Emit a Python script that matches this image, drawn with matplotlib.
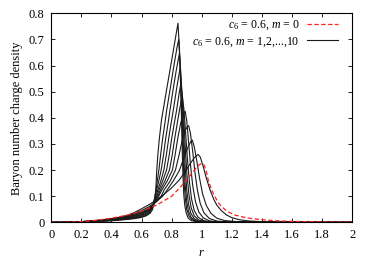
import matplotlib
matplotlib.use("Agg")
import matplotlib.pyplot as plt

plt.rcParams['font.family'] = ['Liberation Serif', 'DejaVu Serif']
plt.rcParams['mathtext.fontset'] = 'custom'
plt.rcParams['mathtext.rm'] = 'Liberation Serif'
plt.rcParams['mathtext.it'] = 'Liberation Serif:italic'

# red dashed: c6=0.6, m=0
r0 = [0, 0.1, 0.2, 0.3, 0.4, 0.5, 0.6, 0.7, 0.8, 0.85, 0.9, 0.93, 0.96, 0.98, 1.0, 1.015, 1.03, 1.043, 1.065, 1.088, 1.11, 1.132, 1.17, 1.22, 1.3, 1.4, 1.5, 1.6, 1.8, 2.0]
d0 = [0, 0.0005, 0.003, 0.008, 0.016, 0.027, 0.043, 0.066, 0.1, 0.13, 0.162, 0.185, 0.207, 0.219, 0.226, 0.22, 0.195, 0.162, 0.125, 0.098, 0.075, 0.06, 0.042, 0.028, 0.017, 0.01, 0.006, 0.004, 0.0015, 0.0005]

# black solid: m = 1..10
r1 = [0, 0.1, 0.2, 0.3, 0.4, 0.45, 0.5, 0.55, 0.6, 0.65, 0.7, 0.75, 0.8, 0.85, 0.89, 0.92, 0.95, 0.975, 0.99, 1.01, 1.03, 1.055, 1.08, 1.1, 1.13, 1.165, 1.2, 1.25, 1.3, 1.4, 1.6, 2.0]
d1 = [0, 0.0005, 0.003, 0.0075, 0.014, 0.019, 0.026, 0.037, 0.052, 0.068, 0.086, 0.108, 0.132, 0.162, 0.194, 0.222, 0.247, 0.26, 0.25, 0.213, 0.17, 0.124, 0.088, 0.066, 0.045, 0.028, 0.018, 0.01, 0.006, 0.0025, 0.0007, 0]

r2 = [0, 0.1, 0.2, 0.3, 0.4, 0.5, 0.55, 0.6, 0.65, 0.7, 0.74, 0.77, 0.81, 0.85, 0.88, 0.91, 0.928, 0.937, 0.95, 0.967, 0.985, 1.005, 1.03, 1.06, 1.1, 1.15, 1.25, 1.4, 2.0]
d2 = [0, 0.0004, 0.0027, 0.007, 0.014, 0.024, 0.033, 0.045, 0.06, 0.08, 0.1, 0.124, 0.158, 0.197, 0.245, 0.29, 0.31, 0.315, 0.29, 0.235, 0.17, 0.11, 0.065, 0.035, 0.016, 0.007, 0.002, 0.0005, 0]

r3 = [0, 0.1, 0.2, 0.3, 0.4, 0.5, 0.55, 0.6, 0.63, 0.65, 0.68, 0.71, 0.73, 0.75, 0.79, 0.825, 0.848, 0.87, 0.89, 0.905, 0.913, 0.925, 0.94, 0.955, 0.972, 0.99, 1.015, 1.05, 1.1, 1.2, 2.0]
d3 = [0, 0.0003, 0.0024, 0.0065, 0.013, 0.023, 0.03, 0.04, 0.048, 0.055, 0.069, 0.086, 0.1, 0.124, 0.158, 0.2, 0.255, 0.315, 0.352, 0.367, 0.37, 0.34, 0.27, 0.19, 0.12, 0.072, 0.036, 0.015, 0.005, 0.001, 0]

r4 = [0, 0.1, 0.2, 0.3, 0.4, 0.5, 0.55, 0.6, 0.63, 0.65, 0.67, 0.69, 0.712, 0.735, 0.77, 0.805, 0.822, 0.84, 0.86, 0.877, 0.89, 0.9, 0.912, 0.925, 0.94, 0.958, 0.98, 1.01, 1.05, 1.1, 1.2, 2.0]
d4 = [0, 0.0003, 0.0022, 0.006, 0.012, 0.021, 0.027, 0.036, 0.045, 0.053, 0.064, 0.078, 0.098, 0.124, 0.158, 0.2, 0.255, 0.32, 0.38, 0.415, 0.425, 0.39, 0.31, 0.22, 0.14, 0.08, 0.04, 0.017, 0.006, 0.002, 0.0005, 0]

r5 = [0, 0.1, 0.2, 0.3, 0.4, 0.5, 0.55, 0.6, 0.63, 0.65, 0.67, 0.69, 0.707, 0.725, 0.755, 0.785, 0.803, 0.82, 0.836, 0.852, 0.864, 0.871, 0.882, 0.893, 0.905, 0.918, 0.932, 0.95, 0.975, 1.01, 1.06, 1.15, 2.0]
d5 = [0, 0.0002, 0.002, 0.0055, 0.011, 0.019, 0.025, 0.033, 0.042, 0.05, 0.062, 0.078, 0.098, 0.124, 0.158, 0.2, 0.255, 0.32, 0.375, 0.43, 0.467, 0.48, 0.43, 0.34, 0.24, 0.155, 0.09, 0.045, 0.02, 0.007, 0.002, 0.0005, 0]

r6 = [0, 0.1, 0.2, 0.3, 0.4, 0.5, 0.55, 0.6, 0.63, 0.65, 0.67, 0.685, 0.7, 0.716, 0.74, 0.766, 0.783, 0.8, 0.816, 0.833, 0.85, 0.862, 0.872, 0.882, 0.892, 0.902, 0.915, 0.93, 0.95, 0.98, 1.02, 1.1, 2.0]
d6 = [0, 0.0002, 0.0017, 0.005, 0.0105, 0.017, 0.023, 0.03, 0.039, 0.047, 0.06, 0.076, 0.097, 0.124, 0.158, 0.2, 0.255, 0.32, 0.375, 0.43, 0.495, 0.535, 0.48, 0.38, 0.27, 0.18, 0.105, 0.055, 0.025, 0.009, 0.003, 0.0005, 0]

r7 = [0, 0.1, 0.2, 0.3, 0.4, 0.5, 0.55, 0.6, 0.63, 0.65, 0.665, 0.68, 0.695, 0.708, 0.728, 0.748, 0.765, 0.78, 0.795, 0.811, 0.835, 0.856, 0.865, 0.873, 0.882, 0.89, 0.9, 0.912, 0.927, 0.95, 0.98, 1.05, 2.0]
d7 = [0, 0.0002, 0.0015, 0.0045, 0.009, 0.015, 0.02, 0.027, 0.035, 0.044, 0.056, 0.074, 0.098, 0.124, 0.158, 0.2, 0.26, 0.32, 0.375, 0.43, 0.52, 0.59, 0.53, 0.43, 0.31, 0.21, 0.125, 0.07, 0.035, 0.014, 0.005, 0.001, 0]

r8 = [0, 0.1, 0.2, 0.3, 0.4, 0.5, 0.55, 0.6, 0.63, 0.65, 0.665, 0.678, 0.69, 0.70, 0.715, 0.73, 0.745, 0.76, 0.775, 0.789, 0.81, 0.83, 0.851, 0.86, 0.868, 0.875, 0.882, 0.89, 0.9, 0.912, 0.93, 0.96, 1.0, 1.1, 2.0]
d8 = [0, 0.0001, 0.0013, 0.004, 0.008, 0.013, 0.018, 0.024, 0.031, 0.04, 0.052, 0.07, 0.097, 0.124, 0.16, 0.2, 0.255, 0.32, 0.375, 0.43, 0.51, 0.58, 0.645, 0.58, 0.46, 0.34, 0.23, 0.14, 0.08, 0.042, 0.018, 0.006, 0.002, 0.0, 0]

r9 = [0, 0.1, 0.2, 0.3, 0.4, 0.5, 0.55, 0.6, 0.63, 0.65, 0.665, 0.677, 0.687, 0.695, 0.705, 0.715, 0.727, 0.74, 0.755, 0.767, 0.79, 0.815, 0.835, 0.847, 0.855, 0.863, 0.87, 0.876, 0.882, 0.89, 0.9, 0.915, 0.935, 0.97, 1.05, 2.0]
d9 = [0, 0.0001, 0.0012, 0.0035, 0.007, 0.012, 0.016, 0.021, 0.027, 0.035, 0.047, 0.065, 0.095, 0.12, 0.16, 0.2, 0.26, 0.32, 0.38, 0.43, 0.51, 0.6, 0.668, 0.70, 0.63, 0.5, 0.36, 0.25, 0.16, 0.095, 0.05, 0.024, 0.01, 0.003, 0.0005, 0]

r10 = [0, 0.1, 0.2, 0.3, 0.4, 0.5, 0.55, 0.6, 0.63, 0.655, 0.67, 0.68, 0.688, 0.695, 0.70, 0.707, 0.718, 0.732, 0.748, 0.77, 0.8, 0.825, 0.842, 0.85, 0.858, 0.865, 0.87, 0.875, 0.88, 0.887, 0.897, 0.91, 0.93, 0.97, 1.05, 2.0]
d10 = [0, 0.0001, 0.001, 0.003, 0.006, 0.011, 0.014, 0.019, 0.025, 0.034, 0.046, 0.062, 0.085, 0.13, 0.19, 0.25, 0.32, 0.39, 0.445, 0.52, 0.62, 0.705, 0.762, 0.68, 0.55, 0.4, 0.28, 0.18, 0.11, 0.065, 0.035, 0.016, 0.007, 0.002, 0.0, 0.0]

label0 = r'$c_6$ = 0.6, $m$ = 0'
label_b = r'$c_6$ = 0.6, $m$ = 1,2,...,10'
xticks = [0, 0.2, 0.4, 0.6, 0.8, 1.0, 1.2, 1.4, 1.6, 1.8, 2.0]
xticklabels = ['0', '0.2', '0.4', '0.6', '0.8', '1', '1.2', '1.4', '1.6', '1.8', '2']
yticks = [0, 0.1, 0.2, 0.3, 0.4, 0.5, 0.6, 0.7, 0.8]
yticklabels = ['0', '0.1', '0.2', '0.3', '0.4', '0.5', '0.6', '0.7', '0.8']

fig = plt.figure(figsize=(3.74, 2.61), dpi=100)
ax = fig.add_axes([0.137, 0.148, 0.805, 0.801])

ax.plot(r0, d0, color='#ff2020', lw=0.9, ls=(0, (3.5, 2)), label=label0, zorder=3)
blacks = [(r1, d1), (r2, d2), (r3, d3), (r4, d4), (r5, d5),
          (r6, d6), (r7, d7), (r8, d8), (r9, d9), (r10, d10)]
for i, (rr, dd) in enumerate(blacks):
    ax.plot(rr, dd, color='#1a1a1a', lw=0.8, label=label_b if i == 0 else None, zorder=2)

ax.set_xlim(0, 2)
ax.set_ylim(0, 0.8)
ax.set_xticks(xticks)
ax.set_xticklabels(xticklabels)
ax.set_yticks(yticks)
ax.set_yticklabels(yticklabels)
ax.tick_params(direction='in', top=True, right=True, length=3, width=0.6, labelsize=9, pad=5)
for s in ax.spines.values():
    s.set_linewidth(0.8)

ax.set_xlabel(r'$r$', fontsize=9, labelpad=4)
ax.set_ylabel('Baryon number charge density', fontsize=9, labelpad=4)

leg = ax.legend(loc='upper right', bbox_to_anchor=(0.97, 1.0), frameon=False,
                markerfirst=False, fontsize=8.6,
                handlelength=2.6, handletextpad=0.6, borderaxespad=0.15, borderpad=0.3,
                labelspacing=0.25)
for t in leg.get_texts():
    t.set_ha('right')

fig.savefig('out.png', dpi=100)
